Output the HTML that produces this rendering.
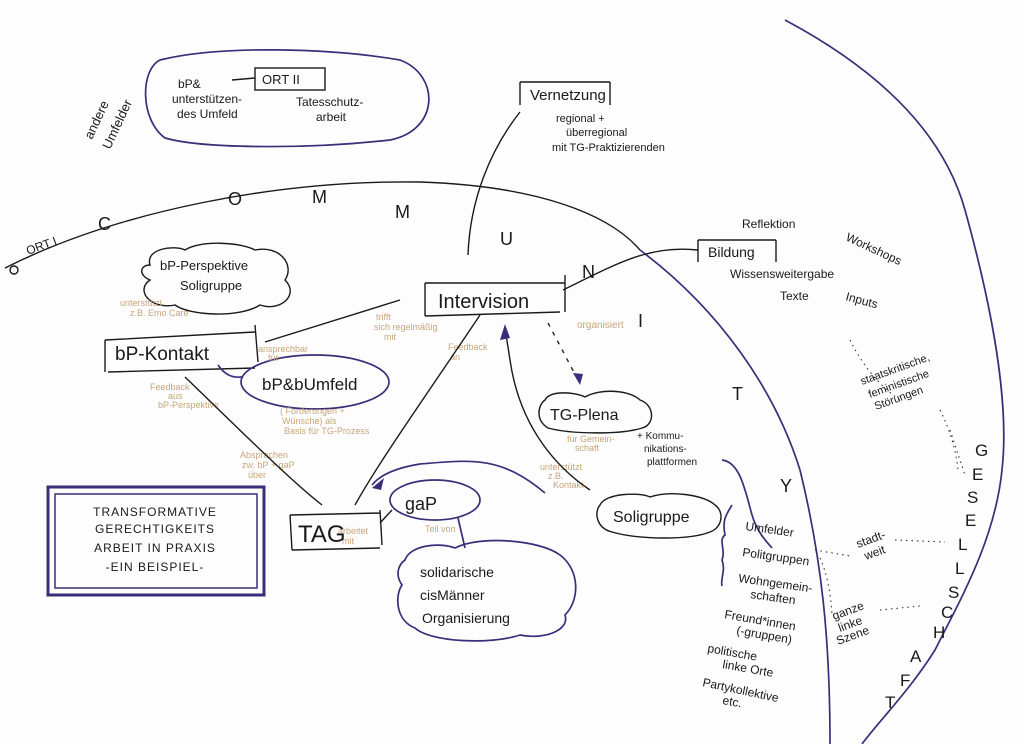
<!DOCTYPE html>
<html><head><meta charset="utf-8"><style>
html,body{margin:0;padding:0;background:#fdfdfd;}
svg{display:block;}
text{font-family:"Liberation Sans",sans-serif;}
.k{fill:#1a1a1a;}
.t{fill:#c9a57a;font-size:9px;}
.p{fill:none;stroke:#1a1a1a;stroke-width:1.4;}
.v{fill:none;stroke:#3c2d78;stroke-width:1.7;}
</style></head><body>
<svg width="1024" height="744" viewBox="0 0 1024 744" xmlns="http://www.w3.org/2000/svg">
<rect width="1024" height="744" fill="#fdfdfd"/>
<!-- Gesellschaft curve -->
<path class="v" d="M785,20 C860,60 940,120 965,210 C990,300 1010,400 1002,470 C995,540 960,600 935,650 C910,690 880,720 862,744"/>
<g class="k" font-size="17">
<text x="975" y="456">G</text><text x="972" y="480">E</text><text x="967" y="503">S</text><text x="965" y="526">E</text><text x="958" y="550">L</text><text x="955" y="574">L</text><text x="948" y="598">S</text><text x="941" y="618">C</text><text x="933" y="638">H</text><text x="910" y="662">A</text><text x="900" y="686">F</text><text x="885" y="708">T</text>
</g>
<!-- Community arc -->
<path class="p" d="M5,268 C120,210 280,180 420,182 C540,186 610,215 640,250"/>
<path class="v" d="M640,250 C720,310 775,390 800,470 C822,560 830,640 830,744"/>
<circle cx="14" cy="270" r="4" class="p"/>
<g class="k" font-size="18">
<text x="28" y="255" font-size="12" transform="rotate(-20 28 255)">ORT I</text>
<text x="98" y="230">C</text><text x="228" y="205">O</text><text x="312" y="203">M</text><text x="395" y="218">M</text>
<text x="500" y="245">U</text><text x="582" y="278">N</text><text x="638" y="327">I</text><text x="732" y="400">T</text><text x="780" y="492">Y</text>
</g>
<!-- top-left blob -->
<text x="92" y="140" class="k" font-size="13" transform="rotate(-65 92 140)">andere</text>
<text x="110" y="150" class="k" font-size="13" transform="rotate(-65 110 150)">Umfelder</text>
<path class="v" d="M160,60 C220,45 330,48 400,60 C440,75 440,130 390,140 C300,150 200,148 165,138 C140,120 140,70 160,60 Z"/>
<g class="k" font-size="12">
<text x="178" y="88">bP&amp;</text><text x="172" y="103">unterstützen-</text><text x="177" y="118">des Umfeld</text>
<text x="262" y="84" font-size="13">ORT II</text>
<text x="296" y="106">Tatesschutz-</text><text x="316" y="121">arbeit</text>
</g>
<rect x="255" y="68" width="70" height="22" class="p"/>
<path class="p" d="M232,80 L255,78"/>
<!-- Vernetzung -->
<path class="p" d="M520,82 L520,105 M520,82 L610,82 M610,82 L610,105"/>
<text x="530" y="100" class="k" font-size="15">Vernetzung</text>
<g class="k" font-size="11"><text x="556" y="122">regional +</text><text x="566" y="136">überregional</text><text x="552" y="151">mit TG-Praktizierenden</text></g>
<path class="p" d="M520,112 C490,150 470,200 468,255"/>
<!-- Bildung -->
<path class="p" d="M698,240 L776,240 M698,240 L698,262 M776,240 L776,262"/>
<text x="708" y="257" class="k" font-size="14">Bildung</text>
<g class="k" font-size="12"><text x="742" y="228">Reflektion</text><text x="730" y="278">Wissensweitergabe</text><text x="780" y="300">Texte</text><text x="845" y="300" transform="rotate(15 845 300)">Inputs</text><text x="845" y="240" transform="rotate(25 845 240)">Workshops</text></g>
<path class="p" d="M563,290 C620,262 650,245 698,250"/>
<g class="k" font-size="11"><text x="862" y="385" transform="rotate(-20 862 385)">staatskritische,</text><text x="870" y="398" transform="rotate(-20 870 398)">feministische</text><text x="876" y="410" transform="rotate(-20 876 410)">Störungen</text></g>
<path d="M850,340 Q870,380 900,400 M950,430 Q960,460 965,475" stroke="#222" stroke-dasharray="1.5 4" fill="none"/>
<!-- Intervision -->
<path class="p" d="M425,283 L565,283 M425,283 L425,316 M565,275 L565,312 M425,316 L560,312"/>
<text x="438" y="308" class="k" font-size="20">Intervision</text>
<!-- bP-Perspektive cloud -->
<path class="p" d="M150,265 C145,248 175,245 185,250 C200,240 240,242 255,250 C280,245 295,265 285,280 C300,295 280,312 260,305 C240,318 190,316 175,305 C150,310 135,290 150,280 C138,275 140,265 150,265 Z"/>
<g class="k" font-size="13"><text x="160" y="270">bP-Perspektive</text><text x="180" y="290">Soligruppe</text></g>
<text x="120" y="306" class="t">unterstützt</text><text x="130" y="316" class="t">z.B. Emo Care</text>
<!-- bP-Kontakt -->
<path class="p" d="M105,340 L105,372 M105,340 L255,332 M255,325 L258,362 M108,372 L255,368"/>
<text x="115" y="360" class="k" font-size="19">bP-Kontakt</text>
<path class="p" d="M265,342 L400,300"/>
<!-- bP&bUmfeld -->
<ellipse cx="315" cy="382" rx="74" ry="27" class="v"/>
<text x="262" y="390" class="k" font-size="17">bP&amp;bUmfeld</text>
<path class="v" d="M218,365 C225,375 232,378 242,377"/>
<g class="t"><text x="280" y="414">( Forderungen +</text><text x="282" y="424">Wünsche) als</text><text x="284" y="434">Basis für TG-Prozess</text>
<text x="258" y="352">ansprechbar</text><text x="268" y="361">für</text>
<text x="150" y="390">Feedback</text><text x="168" y="399">aus</text><text x="158" y="408">bP-Perspektive</text>
<text x="240" y="458">Absprachen</text><text x="242" y="468">zw. bP + gaP</text><text x="248" y="478">über</text>
<text x="376" y="320">trifft</text><text x="374" y="330">sich regelmäßig</text><text x="384" y="340">mit</text>
<text x="448" y="350">Feedback</text><text x="450" y="360">an</text>
<text x="577" y="328" font-size="10">organisiert</text>
<text x="567" y="442">für Gemein-</text><text x="575" y="451">schaft</text>
<text x="540" y="470">unterstützt</text><text x="548" y="479">z.B.</text><text x="553" y="488">Kontakt</text>
<text x="425" y="532">Teil von</text>
<text x="338" y="534">arbeitet</text><text x="342" y="544">mit</text></g>
<!-- connectors -->
<path class="p" d="M185,377 C240,430 290,480 322,505"/>
<path class="p" d="M480,315 C430,390 380,460 355,505"/>
<path class="v" d="M545,493 C500,455 470,460 420,464 C395,468 380,475 372,485"/>
<path d="M372,488 L384,478 L381,490 Z" fill="#3c2d78"/>
<path class="p" d="M590,490 C560,470 520,430 510,360 L505,328"/>
<path d="M505,324 L500,340 L510,338 Z" fill="#3c2d78"/>
<path d="M548,323 L578,380" stroke="#222" stroke-width="1.4" stroke-dasharray="4 6" fill="none"/>
<path d="M580,385 L573,373 L583,374 Z" fill="#3c2d78"/>
<!-- TG-Plena -->
<path class="p" d="M545,400 C550,390 575,392 585,397 C600,388 630,390 640,400 C655,405 655,425 642,428 C620,435 570,434 548,428 C535,420 538,405 545,400 Z"/>
<text x="550" y="420" class="k" font-size="16">TG-Plena</text>
<g class="k" font-size="10"><text x="637" y="439">+ Kommu-</text><text x="644" y="452">nikations-</text><text x="647" y="465">plattformen</text></g>
<path class="v" d="M722,460 C740,462 745,490 752,515 C758,535 770,545 772,548"/>
<path class="v" d="M732,505 C726,515 722,520 725,535 C718,540 726,550 722,560 C726,570 720,580 722,586"/>
<!-- Soligruppe -->
<path class="p" d="M600,505 C605,493 640,492 650,497 C670,490 705,495 715,505 C725,512 722,528 710,532 C690,540 640,540 612,532 C596,528 594,512 600,505 Z"/>
<text x="613" y="522" class="k" font-size="16">Soligruppe</text>
<!-- TAG, gaP -->
<path class="p" d="M290,515 L380,513 M290,515 L292,550 M380,510 L382,545 M292,550 L380,548"/>
<text x="298" y="542" class="k" font-size="24">TAG</text>
<ellipse cx="435" cy="500" rx="45" ry="20" class="v"/>
<text x="405" y="510" class="k" font-size="18">gaP</text>
<path class="p" d="M380,523 L392,510"/>
<path class="v" d="M458,518 L465,548"/>
<!-- solidarische cloud -->
<path class="v" d="M405,560 C410,545 440,542 455,548 C480,535 540,540 560,555 C580,570 580,600 565,615 C570,630 545,640 520,635 C490,645 430,642 415,628 C395,620 395,595 402,585 C395,575 398,565 405,560 Z"/>
<g class="k" font-size="14"><text x="420" y="577">solidarische</text><text x="420" y="600">cisMänner</text><text x="422" y="623">Organisierung</text></g>
<!-- TRANSFORMATIVE box -->
<rect x="48" y="487" width="216" height="108" fill="none" stroke="#3c2d78" stroke-width="3"/>
<rect x="55" y="494" width="202" height="94" fill="none" stroke="#3c2d78" stroke-width="1.5"/>
<g class="k" font-size="12" text-anchor="middle" letter-spacing="1"><text x="155" y="516">TRANSFORMATIVE</text><text x="155" y="533">GERECHTIGKEITS</text><text x="155" y="552">ARBEIT IN PRAXIS</text><text x="155" y="571">-EIN BEISPIEL-</text></g>
<!-- Umfelder list -->
<g class="k" font-size="12">
<text x="745" y="530" transform="rotate(8 745 530)">Umfelder</text>
<text x="742" y="556" transform="rotate(8 742 556)">Politgruppen</text>
<text x="738" y="582" transform="rotate(8 738 582)">Wohngemein-</text>
<text x="750" y="598" transform="rotate(8 750 598)">schaften</text>
<text x="724" y="618" transform="rotate(10 724 618)">Freund*innen</text>
<text x="736" y="634" transform="rotate(10 736 634)">(-gruppen)</text>
<text x="707" y="652" transform="rotate(10 707 652)">politische</text>
<text x="722" y="668" transform="rotate(10 722 668)">linke Orte</text>
<text x="702" y="686" transform="rotate(12 702 686)">Partykollektive</text>
<text x="722" y="704" transform="rotate(10 722 704)">etc.</text>
<text x="858" y="548" transform="rotate(-20 858 548)">stadt-</text><text x="866" y="560" transform="rotate(-20 866 560)">weit</text>
<text x="834" y="620" transform="rotate(-20 834 620)">ganze</text><text x="840" y="632" transform="rotate(-20 840 632)">linke</text><text x="838" y="645" transform="rotate(-20 838 645)">Szene</text>
</g>
<path d="M815,550 L850,556 M820,558 Q830,580 832,615 M895,540 L945,542 M880,610 L920,606 M940,410 Q955,440 958,470" stroke="#222" stroke-dasharray="1.5 4" fill="none"/>
</svg>
</body></html>
